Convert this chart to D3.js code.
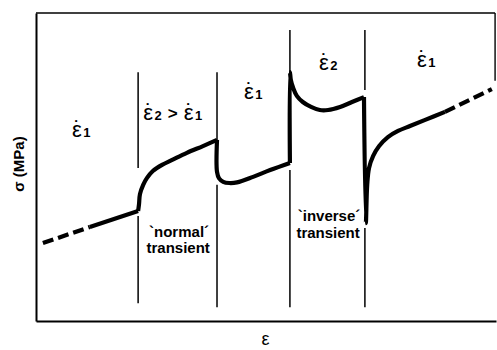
<!DOCTYPE html>
<html>
<head>
<meta charset="utf-8">
<script src="https://cdn.jsdelivr.net/npm/d3@7"></script>
<style>
  body { margin: 0; background: #fff; }
  svg text { font-family: "Liberation Sans", Arial, sans-serif; fill: #000; }
</style>
</head>
<body>
<svg id="chart" width="497" height="350"></svg>
<script>
// Stress-strain response under strain-rate changes (strain and stress in arbitrary units, 0-100)

// extrapolated start (dashed) and steady portion at rate 1
const leadIn = [[1.5, 25.3], [11.7, 30.5]];
const stage1 = [[11.7, 30.5], [22.2, 35.7]];
// rate raised to 2: "normal" transient
const stage2 = [[22.2, 35.7], [22.4, 38.0], [22.6, 41.2], [23.3, 44.2], [24.1, 46.4], [25.4, 48.7],
                [27.4, 50.7], [29.6, 52.3], [32.8, 54.6], [36.3, 56.8], [39.35, 58.8]];
// rate back to 1
const stage3 = [[39.35, 58.8], [39.35, 48.4], [39.8, 46.3], [40.7, 45.2], [42.0, 44.8], [43.7, 45.0],
                [47.2, 46.8], [50.9, 49.0], [55.2, 51.3]];
// rate raised to 2 again: "inverse" transient
const stage4 = [[55.2, 51.3], [55.2, 80.8], [55.4, 78.3], [55.9, 75.7], [56.7, 73.1], [58.0, 71.1],
                [59.8, 69.5], [61.7, 68.5], [63.5, 68.5], [66.1, 69.5], [68.7, 71.1], [71.3, 72.7]];
// rate back to 1
const stage5 = [[71.3, 72.7], [71.7, 31.8], [72.0, 44.2], [72.4, 49.7], [73.3, 53.6], [74.6, 56.8],
                [76.5, 59.7], [78.7, 61.7], [81.3, 63.3], [84.6, 65.3], [88.9, 67.9]];
// extrapolated continuation (dashed)
const tailOut = [[88.9, 67.9], [99.1, 75.3]];

// strain at each rate change, and the stress spans of its marker line
const rateChanges = [22.2, 39.35, 55.2, 71.5];
const markerSpans = [
  [[80.8, 49.7], [34.1, 5.8]],
  [[80.8, 58.8], [44.2, 4.5]],
  [[94.5, 80.8], [49.0, 4.5]],
  [[94.5, 75.0], [30.2, 4.5]]
];

// strain-rate labels for each stage: position and subscript(s)
const rateLabels = [
  { strain: 7.8,  stress: 59.7, parts: ["1"] },
  { strain: 23.3, stress: 65.3, parts: ["2", "1"] },
  { strain: 45.2, stress: 72.1, parts: ["1"] },
  { strain: 61.5, stress: 81.5, parts: ["2"] },
  { strain: 82.8, stress: 82.5, parts: ["1"] }
];

// transient annotations
const notes = [
  { strain: 31.1, stress: 27.3, text: "`normal´" },
  { strain: 30.9, stress: 22.1, text: "transient" },
  { strain: 63.7, stress: 32.5, text: "`inverse´" },
  { strain: 63.5, stress: 26.9, text: "transient" }
];

const yTitle = "σ (MPa)";
const xTitle = "ε";

const svg = d3.select("#chart");
const margin = { left: 36, right: 1, top: 13, bottom: 29 };
const W = 497, H = 350;

const x = d3.scaleLinear().domain([0, 100]).range([margin.left, W - margin.right]);
const y = d3.scaleLinear().domain([0, 100]).range([H - margin.bottom, margin.top]);

// frame: bottom and left axes without ticks, plus top edge and short right edge
svg.append("g")
  .attr("transform", `translate(0,${y(0)})`)
  .call(d3.axisBottom(x).ticks(0).tickSizeOuter(0))
  .call(g => g.select(".domain").attr("stroke", "#000").attr("stroke-width", 2));
svg.append("g")
  .attr("transform", `translate(${x(0)},0)`)
  .call(d3.axisLeft(y).ticks(0).tickSizeOuter(0))
  .call(g => g.select(".domain").attr("stroke", "#000").attr("stroke-width", 2));
svg.append("line")
  .attr("x1", x(0)).attr("x2", x(99.8)).attr("y1", y(100)).attr("y2", y(100))
  .attr("stroke", "#000").attr("stroke-width", 1.6);
svg.append("line")
  .attr("x1", x(99.8)).attr("x2", x(99.8)).attr("y1", y(100)).attr("y2", y(78))
  .attr("stroke", "#000").attr("stroke-width", 1.4);

// rate-change marker lines
rateChanges.forEach((s, i) => {
  markerSpans[i].forEach(span => {
    svg.append("line")
      .attr("x1", x(s)).attr("x2", x(s))
      .attr("y1", y(span[0])).attr("y2", y(span[1]))
      .attr("stroke", "#000").attr("stroke-width", 1.5);
  });
});

// stress-strain curve
const line = d3.line().x(d => x(d[0])).y(d => y(d[1])).curve(d3.curveCatmullRom.alpha(0.5));
const straight = d3.line().x(d => x(d[0])).y(d => y(d[1]));

[leadIn, tailOut].forEach(seg => {
  svg.append("path").attr("d", straight(seg))
    .attr("fill", "none").attr("stroke", "#000").attr("stroke-width", 4.2)
    .attr("stroke-dasharray", "11,5");
});
[stage1, stage2, stage3, stage4, stage5].forEach(seg => {
  svg.append("path").attr("d", line(seg))
    .attr("fill", "none").attr("stroke", "#000").attr("stroke-width", 4.2)
    .attr("stroke-linejoin", "round").attr("stroke-linecap", "butt");
});

// measure glyph advances so the rate dot can sit centred over the epsilon
function advance(str, size) {
  const t = svg.append("text").style("font-size", size + "px").text(str);
  const w = t.node().getComputedTextLength();
  t.remove();
  return w;
}
const epsW = advance("\u03B5", 22);
const dotW = advance("\u02D9", 22);

// strain-rate symbols: dotted epsilon with subscript, one text element per label
rateLabels.forEach(lab => {
  const t = svg.append("text")
    .attr("x", x(lab.strain)).attr("y", y(lab.stress))
    .style("font-size", "22px");
  lab.parts.forEach((p, i) => {
    if (i > 0) {
      t.append("tspan").attr("dx", 6).attr("dy", -1)
        .style("font-size", "17px").style("font-weight", "bold").text(">");
      t.append("tspan").attr("dx", 6).attr("dy", 1).text("\u03B5");
    } else {
      t.append("tspan").text("\u03B5");
    }
    t.append("tspan").attr("dx", -(epsW + dotW) / 2 + 0.5).attr("dy", -1).text("\u02D9");
    t.append("tspan").attr("dx", (epsW - dotW) / 2 + 1).attr("dy", 1)
      .style("font-size", "13px").style("font-weight", "bold").text(p);
  });
});

// transient annotations
svg.selectAll("text.note").data(notes).join("text")
  .attr("class", "note")
  .attr("x", d => x(d.strain)).attr("y", d => y(d.stress))
  .attr("text-anchor", "middle")
  .style("font-size", "15px").style("font-weight", "bold")
  .text(d => d.text);

// axis titles
svg.append("text")
  .attr("transform", `translate(24,164) rotate(-90)`)
  .attr("text-anchor", "middle")
  .style("font-size", "15px").style("font-weight", "bold")
  .text(yTitle);
svg.append("text")
  .attr("x", x(49.9)).attr("y", 345)
  .attr("text-anchor", "middle")
  .style("font-size", "18px")
  .text(xTitle);
</script>
</body>
</html>
